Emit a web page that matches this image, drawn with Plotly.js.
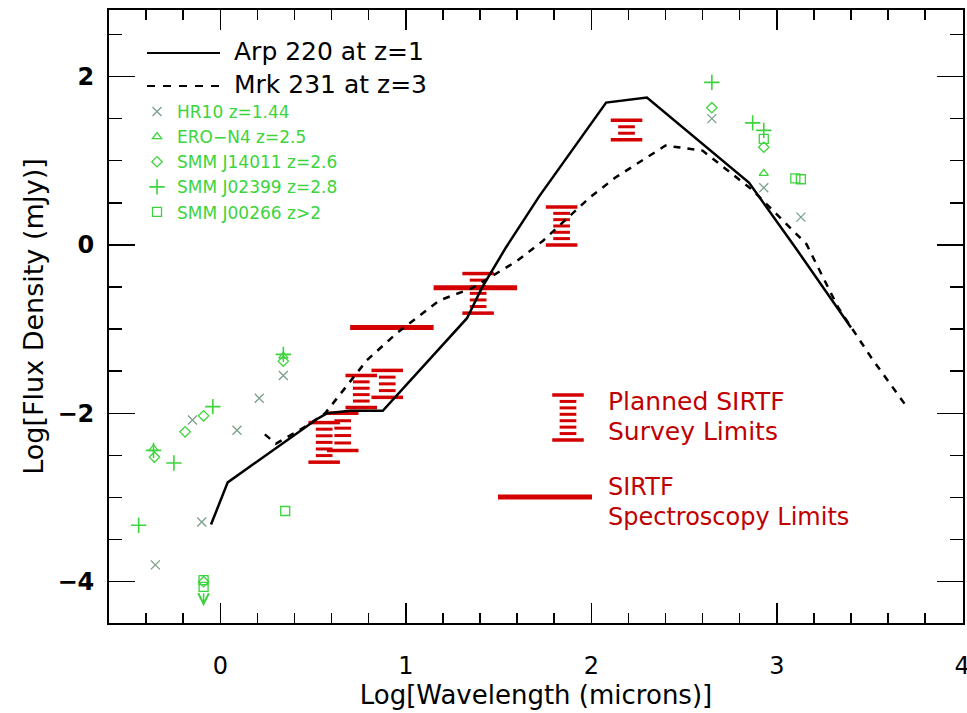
<!DOCTYPE html>
<html><head><meta charset="utf-8">
<script src="https://cdn.plot.ly/plotly-3.0.1.min.js"></script>
<style>html,body{margin:0;padding:0;background:#fff}</style>
</head><body><div id="chart" style="width:967px;height:713px"></div>
<script>
// ---------------- DATA ----------------
// Arp 220 at z=1 (solid)
const arpX = [-0.05, 0.04, 0.52, 0.575, 0.70, 0.876, 1.33, 1.41, 1.54, 1.72, 2.08, 2.30, 2.85, 3.10, 3.40];
const arpY = [-3.32, -2.82, -2.07, -2.00, -1.97, -1.97, -0.87, -0.51, -0.03, 0.58, 1.69, 1.75, 0.74, -0.03, -0.98];
// Mrk 231 at z=3 (dashed)
const mrkX = [0.24, 0.30, 0.45, 0.565, 0.79, 0.95, 1.18, 1.36, 1.60, 1.74, 1.99, 2.13, 2.40, 2.60, 2.87, 3.16, 3.33, 3.51, 3.69];
const mrkY = [-2.25, -2.36, -2.17, -2.00, -1.37, -1.05, -0.66, -0.51, -0.19, 0.05, 0.56, 0.80, 1.18, 1.12, 0.65, 0.01, -0.74, -1.34, -1.89];
// Observed sources
const hrX  = [-0.35, -0.10, -0.15, 0.09, 0.21, 0.34, 2.65, 2.93, 3.13];
const hrY  = [-3.80, -3.29, -2.08, -2.20, -1.82, -1.55, 1.50, 0.68, 0.33];
const eroX = [-0.36, 0.34, 2.93];
const eroY = [-2.42, -1.32, 0.85];
const j14X = [-0.355, -0.19, -0.09, 0.34, -0.09, 2.65, 2.93];
const j14Y = [-2.52, -2.22, -2.03, -1.38, -4.00, 1.63, 1.16];
const j02X = [-0.44, -0.36, -0.25, -0.04, 0.34, 2.65, 2.87, 2.93];
const j02Y = [-3.33, -2.44, -2.59, -1.92, -1.30, 1.93, 1.45, 1.36];
const j00X = [-0.09, -0.09, 0.35, 2.93, 3.10, 3.13];
const j00Y = [-4.06, -3.98, -3.16, 1.26, 0.79, 0.78];
// upper limit arrow (J00266)
const limX = [-0.09], limFrom = [-4.12], limTo = [-4.29];
// Planned SIRTF survey limits
const surveyX   = [0.56, 0.66, 0.76, 0.90, 1.39, 1.84, 2.19];
const surveyTop = [-2.11, -2.00, -1.55, -1.49, -0.34, 0.45, 1.48];
const surveyBot = [-2.58, -2.44, -1.93, -1.81, -0.81, 0.00, 1.25];
// SIRTF spectroscopy limits
const specX0 = [0.70, 1.15];
const specX1 = [1.15, 1.60];
const specY  = [-0.98, -0.51];

// ---------------- LAYOUT HELPERS ----------------
const W = 967, H = 713, M = {l:109, r:4, t:10, b:90};
const XR = [-0.6, 4.004], YR = [-4.49, 2.79];
const xp = px => (px - M.l) / (W - M.l - M.r);
const yp = py => (H - M.b - py) / (H - M.t - M.b);
const xd = px => XR[0] + xp(px) * (XR[1] - XR[0]);
const yd = py => YR[0] + yp(py) * (YR[1] - YR[0]);

const RED = '#d40000', TXTRED = '#c00000', GREEN = '#3cd43c', GREY = '#7a9f8a';
const FONT = 'DejaVu Sans, Liberation Sans, sans-serif';
const CAP_HW = 0.085, STRIPE_HW = 0.045, STEP = 0.08;

function survey(xs, tops, bots) {
  const cx = [], cy = [], sx = [], sy = [];
  xs.forEach((x, i) => {
    const t = tops[i], b = bots[i];
    [t, b].forEach(y => { cx.push(x - CAP_HW, x + CAP_HW, null); cy.push(y, y, null); });
    const n = Math.max(1, Math.round((t - b) / STEP));
    for (let k = 1; k < n; k++) {
      const y = b + k * (t - b) / n;
      sx.push(x - STRIPE_HW, x + STRIPE_HW, null); sy.push(y, y, null);
    }
  });
  return [
    {x: cx, y: cy, mode: 'lines', line: {color: RED, width: 3.5}, showlegend: false, hoverinfo: 'skip'},
    {x: sx, y: sy, mode: 'lines', line: {color: RED, width: 3}, showlegend: false, hoverinfo: 'skip'}
  ];
}

const specXs = [], specYs = [];
specY.forEach((y, i) => { specXs.push(specX0[i], specX1[i], null); specYs.push(y, y, null); });

const traces = [
  ...survey(surveyX, surveyTop, surveyBot),
  ...survey([xd(568)], [yd(395)], [yd(440)]),
  {x: specXs, y: specYs, mode: 'lines', line: {color: RED, width: 5}, showlegend: false, hoverinfo: 'skip'},
  {x: arpX, y: arpY, mode: 'lines', line: {color: '#000', width: 2.5}, showlegend: false, name: 'Arp 220 at z=1'},
  {x: mrkX, y: mrkY, mode: 'lines', line: {color: '#000', width: 2.5, dash: '7px,7px'}, showlegend: false, name: 'Mrk 231 at z=3'},
  {x: hrX, y: hrY, mode: 'markers', name: 'HR10 z=1.44',
   marker: {symbol: 'x-thin-open', size: 9, color: GREY, line: {color: GREY, width: 1.3}}},
  {x: eroX, y: eroY, mode: 'markers', name: 'ERO\u2212N4 z=2.5',
   marker: {symbol: 'triangle-up-open', size: 8, color: GREEN, line: {color: GREEN, width: 1.3}}},
  {x: j14X, y: j14Y, mode: 'markers', name: 'SMM J14011 z=2.6',
   marker: {symbol: 'diamond-open', size: 8, color: GREEN, line: {color: GREEN, width: 1.3}}},
  {x: j02X, y: j02Y, mode: 'markers', name: 'SMM J02399 z=2.8',
   marker: {symbol: 'cross-thin-open', size: 11, color: GREEN, line: {color: GREEN, width: 1.6}}},
  {x: j00X, y: j00Y, mode: 'markers', name: 'SMM J00266 z>2',
   marker: {symbol: 'square-open', size: 9, color: GREEN, line: {color: GREEN, width: 1.3}}}
];

const annotations = [
  {xref: 'paper', yref: 'paper', x: xp(232), y: yp(52), xanchor: 'left', yanchor: 'middle', showarrow: false,
   text: 'Arp 220 at z=1', font: {family: FONT, size: 25, color: '#000'}},
  {xref: 'paper', yref: 'paper', x: xp(232), y: yp(85), xanchor: 'left', yanchor: 'middle', showarrow: false,
   text: 'Mrk 231 at z=3', font: {family: FONT, size: 25, color: '#000'}},
  {xref: 'paper', yref: 'paper', x: xp(606), y: yp(401), xanchor: 'left', yanchor: 'middle', showarrow: false,
   text: 'Planned SIRTF', font: {family: FONT, size: 25, color: TXTRED}},
  {xref: 'paper', yref: 'paper', x: xp(606), y: yp(431), xanchor: 'left', yanchor: 'middle', showarrow: false,
   text: 'Survey Limits', font: {family: FONT, size: 25, color: TXTRED}},
  {xref: 'paper', yref: 'paper', x: xp(606), y: yp(487), xanchor: 'left', yanchor: 'middle', showarrow: false,
   text: 'SIRTF', font: {family: FONT, size: 24, color: TXTRED}},
  {xref: 'paper', yref: 'paper', x: xp(606), y: yp(517), xanchor: 'left', yanchor: 'middle', showarrow: false,
   text: 'Spectroscopy Limits', font: {family: FONT, size: 24, color: TXTRED}}
];
limX.forEach((x, i) => annotations.push({
  x: x, y: limTo[i], ax: x, ay: limFrom[i], axref: 'x', ayref: 'y', xref: 'x', yref: 'y',
  showarrow: true, arrowhead: 5, arrowsize: 1.4, arrowwidth: 1.5, arrowcolor: GREEN, text: ''
}));

const shapes = [
  {type: 'line', xref: 'paper', yref: 'paper', x0: xp(147), x1: xp(220), y0: yp(53), y1: yp(53),
   line: {color: '#000', width: 2}},
  {type: 'line', xref: 'paper', yref: 'paper', x0: xp(147), x1: xp(220), y0: yp(86), y1: yp(86),
   line: {color: '#000', width: 2, dash: '8px,8px'}},
  {type: 'line', xref: 'paper', yref: 'paper', x0: xp(498), x1: xp(592), y0: yp(497), y1: yp(497),
   line: {color: RED, width: 5}}
];

const axisCommon = {
  showgrid: false, zeroline: false, showline: true, linecolor: '#000', linewidth: 2,
  mirror: 'ticks', ticks: 'inside', tickcolor: '#000', tickwidth: 1.5, ticklabeloverflow: 'allow'
};

const layout = {
  width: W, height: H, margin: M,
  paper_bgcolor: '#fff', plot_bgcolor: '#fff',
  font: {family: FONT, color: '#000'},
  showlegend: true,
  legend: {x: xp(137), y: yp(94), xanchor: 'left', yanchor: 'top', bgcolor: 'rgba(0,0,0,0)',
           font: {family: FONT, size: 17, color: GREEN}, itemwidth: 30, tracegroupgap: 0},
  xaxis: Object.assign({}, axisCommon, {
    range: XR, tick0: 0, dtick: 1, ticklen: 20, ticklabelstandoff: 20,
    tickfont: {family: FONT, size: 24, color: '#000'},
    minor: {dtick: 0.2, tick0: 0, ticklen: 10, ticks: 'inside', tickcolor: '#000', tickwidth: 1.5, showgrid: false},
    title: {text: 'Log[Wavelength (microns)]', font: {family: FONT, size: 26, color: '#000'}, standoff: 4}
  }),
  yaxis: Object.assign({}, axisCommon, {
    range: YR, tick0: 0, dtick: 2, ticklen: 26, ticklabelstandoff: 8,
    tickfont: {family: FONT, size: 24, color: '#000', weight: 'bold'},
    minor: {dtick: 0.5, tick0: 0, ticklen: 13, ticks: 'inside', tickcolor: '#000', tickwidth: 1.5, showgrid: false},
    title: {text: 'Log[Flux Density (mJy)]', font: {family: FONT, size: 27, color: '#000'}, standoff: 6}
  }),
  annotations: annotations,
  shapes: shapes
};

Plotly.newPlot('chart', traces, layout, {displayModeBar: false, staticPlot: true});
</script>
</body></html>
